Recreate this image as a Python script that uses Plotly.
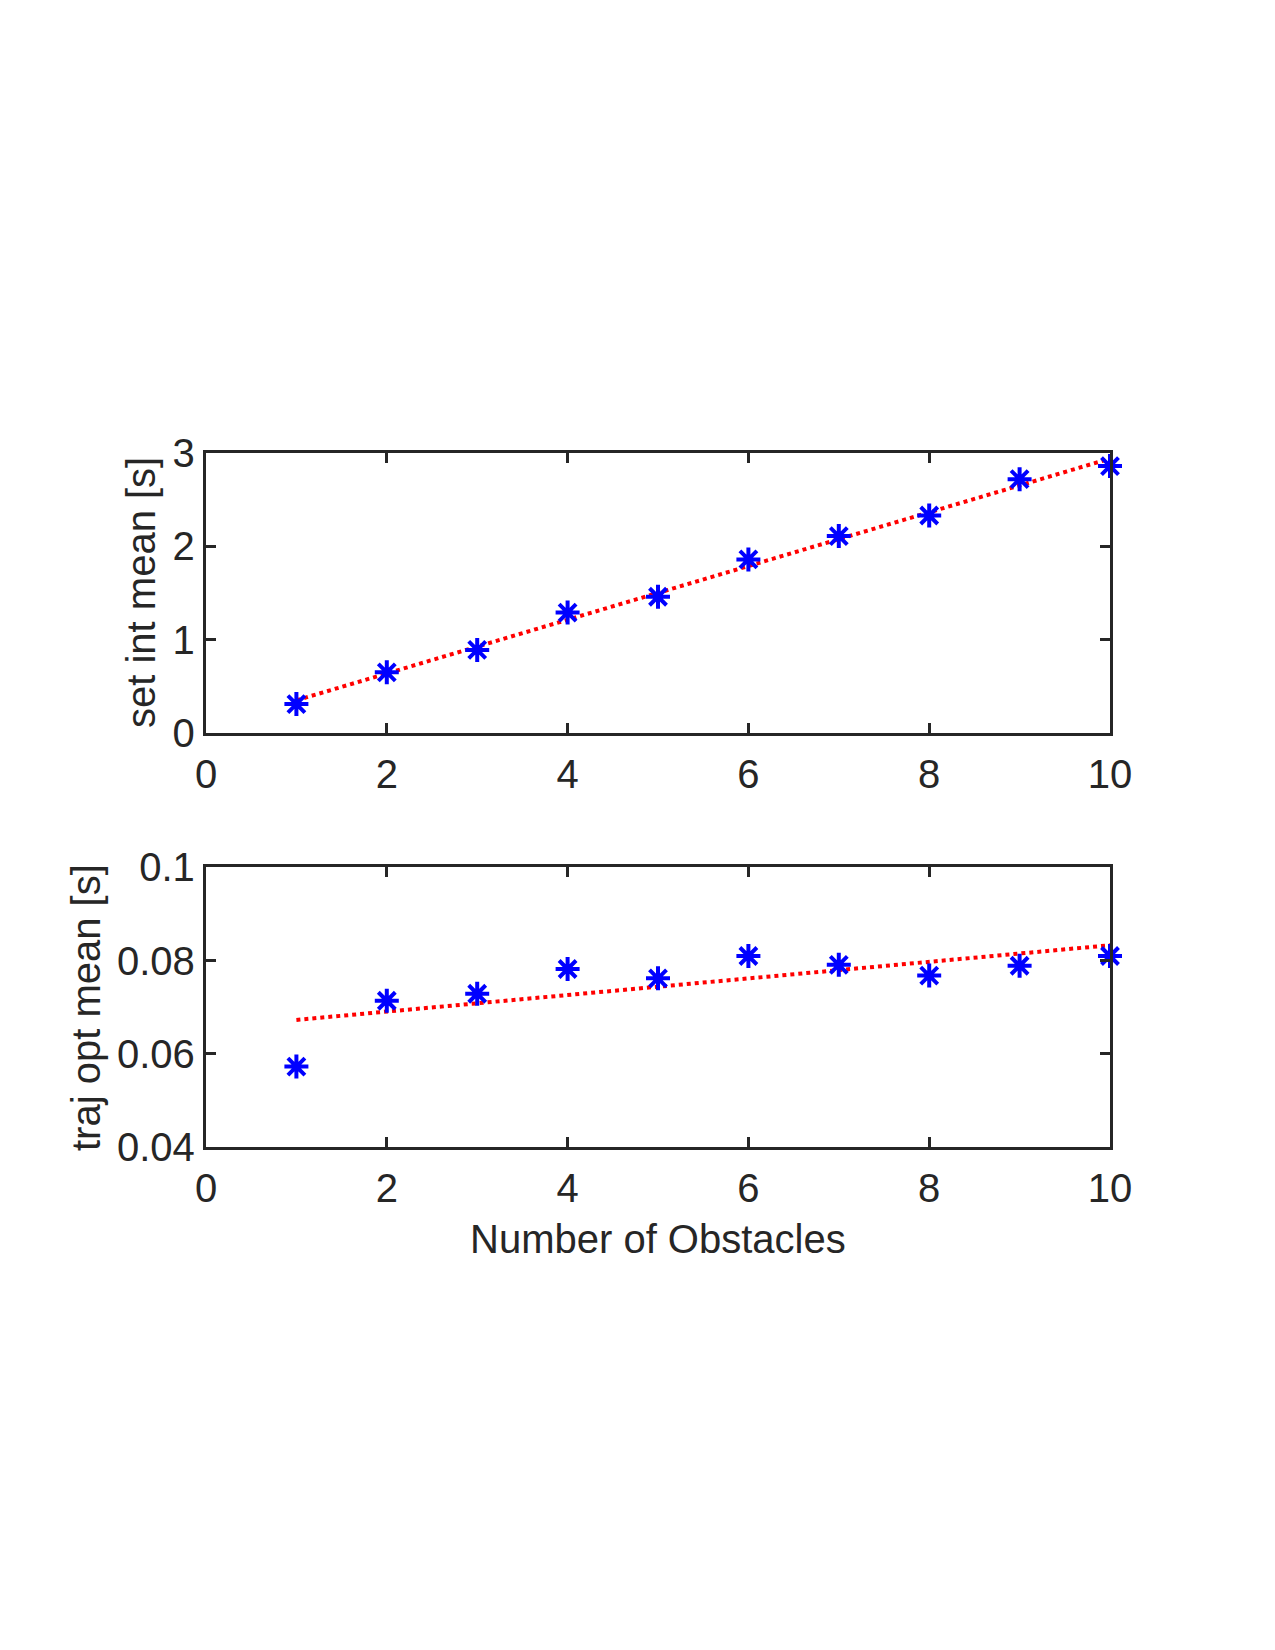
import plotly.graph_objects as go

# Data
n_obstacles = [1, 2, 3, 4, 5, 6, 7, 8, 9, 10]
set_int_mean = [0.31, 0.65, 0.89, 1.29, 1.46, 1.86, 2.11, 2.33, 2.72, 2.86]
traj_opt_mean = [0.0573, 0.0714, 0.0729, 0.0782, 0.0762, 0.0810, 0.0791, 0.0768, 0.0789, 0.0810]
fit_x = [1, 10]
fit_set_int = [0.35, 2.94]
fit_traj_opt = [0.0673, 0.0833]

x_ticks = [0, 2, 4, 6, 8, 10]
x_ticktext = ["0", "2", "4", "6", "8", "10"]
y1_ticks = [0, 1, 2, 3]
y1_ticktext = ["0", "1", "2", "3"]
y2_ticks = [0.04, 0.06, 0.08, 0.1]
y2_ticktext = ["0.04", "0.06", "0.08", "0.1"]

FONT = "Liberation Sans, Arial, Helvetica, sans-serif"
AX = "#262626"
W, H = 1275, 1650
FS = 40

fig = go.Figure()

for xa, ya, y, fit in [("x", "y", set_int_mean, fit_set_int), ("x2", "y2", traj_opt_mean, fit_traj_opt)]:
    fig.add_trace(go.Scatter(x=fit_x, y=fit, mode="lines", xaxis=xa, yaxis=ya,
                             line=dict(color="#ff0000", width=4, dash="4px,4px"),
                             showlegend=False, cliponaxis=False))
    fig.add_trace(go.Scatter(x=n_obstacles, y=y, mode="markers", xaxis=xa, yaxis=ya,
                             marker=dict(symbol="asterisk-open", size=20, color="#0000ff",
                                         line=dict(color="#0000ff", width=4)),
                             showlegend=False, cliponaxis=False))

xdom = [206 / W, 1110 / W]
axis_common = dict(showline=True, linecolor=AX, linewidth=3.3, mirror="ticks",
                   ticks="inside", ticklen=10, tickwidth=3.3, tickcolor=AX,
                   showgrid=False, zeroline=False, automargin=False,
                   tickfont=dict(family=FONT, size=FS, color=AX))

fig.update_layout(
    width=W, height=H, margin=dict(l=0, r=0, t=0, b=0, pad=0, autoexpand=False),
    plot_bgcolor="white", paper_bgcolor="white",
    xaxis=dict(domain=xdom, range=[0, 10], tickvals=x_ticks, ticktext=x_ticktext,
               anchor="y", ticklabelstandoff=4, **axis_common),
    yaxis=dict(domain=[(H - 733) / H, (H - 453) / H], range=[0, 3],
               tickvals=y1_ticks, ticktext=y1_ticktext, anchor="x", **axis_common),
    xaxis2=dict(domain=xdom, range=[0, 10], tickvals=x_ticks, ticktext=x_ticktext,
                anchor="y2", ticklabelstandoff=4, **axis_common),
    yaxis2=dict(domain=[(H - 1147.3) / H, (H - 867.3) / H], range=[0.04, 0.1],
                tickvals=y2_ticks, ticktext=y2_ticktext, anchor="x2", **axis_common),
)

ann_font = dict(family=FONT, size=FS, color=AX)
fig.add_annotation(text="set int mean [s]", x=141 / W, y=(H - 593) / H, xref="paper", yref="paper",
                   textangle=-90, showarrow=False, font=ann_font, xanchor="center", yanchor="middle")
fig.add_annotation(text="traj opt mean [s]", x=86 / W, y=(H - 1007) / H, xref="paper", yref="paper",
                   textangle=-90, showarrow=False, font=ann_font, xanchor="center", yanchor="middle")
fig.add_annotation(text="Number of Obstacles", x=658 / W, y=(H - 1239) / H, xref="paper", yref="paper",
                   showarrow=False, font=ann_font, xanchor="center", yanchor="middle")

fig.write_html("out.html")
